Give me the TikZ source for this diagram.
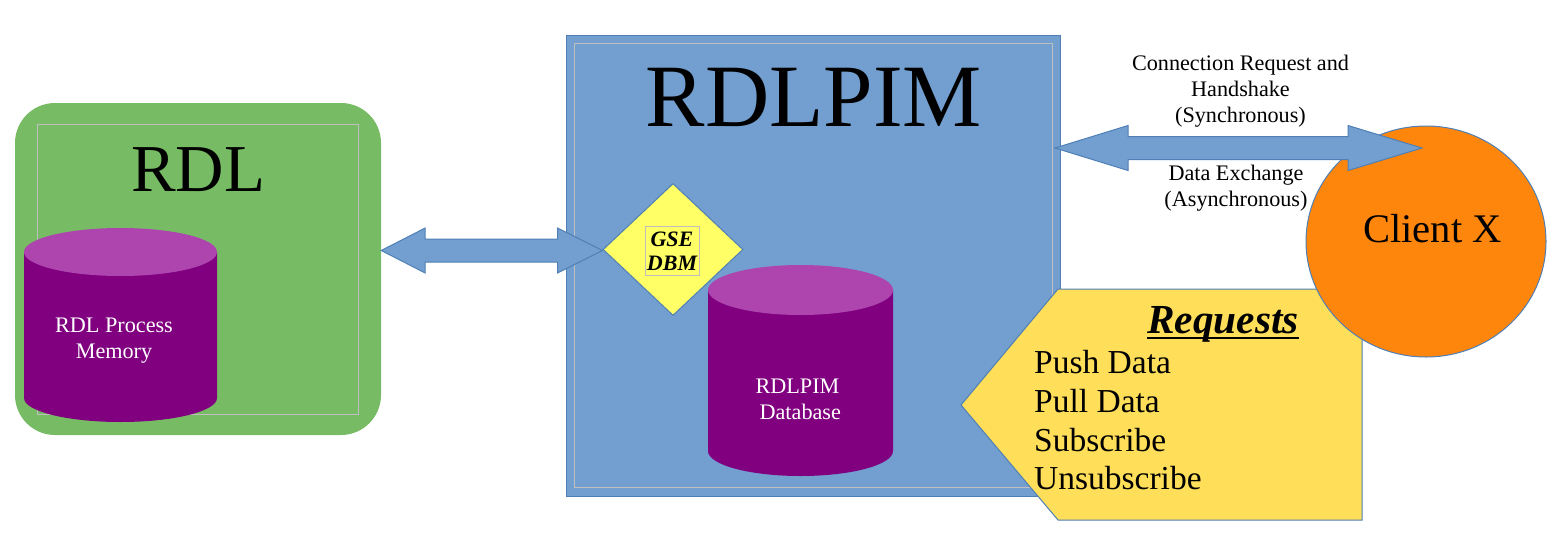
\documentclass[tikz,border=0pt]{standalone}
\usepackage{fontspec}
\setmainfont{Liberation Serif}
\usetikzlibrary{calc,shapes.geometric}
\definecolor{pblue}{HTML}{729FCF}
\definecolor{pblueedge}{HTML}{4F7FB5}
\definecolor{pgreen}{HTML}{77BC65}
\definecolor{ppurple}{HTML}{800080}
\definecolor{ppurpletop}{HTML}{AE45AE}
\definecolor{pyellow}{HTML}{FFFF66}
\definecolor{pgold}{HTML}{FFDE59}
\definecolor{porange}{HTML}{FF860D}
\definecolor{pframe}{HTML}{BFBFBF}
\newcommand{\fs}[1]{\fontsize{#1}{#1}\selectfont}
\tikzset{
  inframe/.style={draw=pframe,line width=0.9pt},
  smalltext/.style={font=\fs{22.2},align=center,inner sep=0pt},
  whitetext/.style={smalltext,text=white},
  bigtext/.style={anchor=center,inner sep=0pt},
  listtext/.style={anchor=west,inner sep=0pt,font=\fs{33.5}},
  cylside/.style={fill=ppurple},
  cyltop/.style={fill=ppurpletop},
  dblarrow/.style={fill=pblue,draw=pblueedge,line width=1pt,line join=miter}
}
\newcommand{\dblarr}[6]{% from, to, headleft, headright, halfhead, halfshaft
  \draw[dblarrow] (#1) -- ($(#1)+(#3,-#5)$) -- ($(#1)+(#3,-#6)$)
    -- ($(#2)+(-#4,-#6)$) -- ($(#2)+(-#4,-#5)$) -- (#2)
    -- ($(#2)+(-#4,#5)$) -- ($(#2)+(-#4,#6)$) -- ($(#1)+(#3,#6)$)
    -- ($(#1)+(#3,#5)$) -- cycle;}
\newcommand{\cyl}[5]{% left, right, topcentre y, bottomcentre y, ry
  \fill[cylside] (#1,#3) -- (#1,#4) arc[x radius={(#2-#1)/2},y radius=#5,start angle=180,end angle=0] -- (#2,#3) -- cycle;
  \fill[cyltop] ({(#1+#2)/2},#3) ellipse[x radius={(#2-#1)/2},y radius=#5];}
\begin{document}
\begin{tikzpicture}[x=1pt,y=-1pt]
\useasboundingbox (0,0) rectangle (1550,539);
% RDLPIM box
\node[fill=pblue,draw=pblueedge,line width=1pt,inner sep=0pt,minimum width=494pt,minimum height=461pt] (pimbox) at (813.5,265.5) {};
\node[inner sep=0pt,minimum width=478pt,minimum height=444pt,inframe] (pimframe) at (813,265.5) {};
\node[bigtext,font=\fs{89}] (pimtitle) at (814,97) {RDLPIM};
% RDL box
\node[fill=pgreen,rounded corners=40pt,inner sep=0pt,minimum width=366pt,minimum height=332pt] (rdlbox) at (198,269) {};
\node[inner sep=0pt,minimum width=321pt,minimum height=290pt,inframe] (rdlframe) at (197.5,269) {};
\node[bigtext,font=\fs{67}] (rdltitle) at (198,170) {RDL};
% RDL memory
\cyl{24}{217}{252}{398}{24}
\node[whitetext] (rdlmem) at (114,341) {RDL Process\\[3.8pt]Memory};
% database
\cyl{708}{893}{290}{451}{25}
\node[whitetext] (pimdb) at (797.5,399) {RDLPIM\\[3.8pt]\ Database};
% requests
\fill[pgold,draw=pblueedge,line width=1pt] (1058,289) -- (1362,289) -- (1362,520) -- (1058,520) -- (961,405) -- cycle;
\node[anchor=base,inner sep=0pt,font=\fs{41.3}\bfseries\itshape] (reqtitle) at (1223,333) {Requests};
\draw[line width=2.6pt] ($(reqtitle.base west)+(0,5)$) -- ($(reqtitle.base east)+(0,5)$);
\node[listtext] (r1) at (1034,362) {Push Data};
\node[listtext] (r2) at (1034,401) {Pull Data};
\node[listtext] (r3) at (1034,440) {Subscribe};
\node[listtext] (r4) at (1034,478) {Unsubscribe};
% client
\node[ellipse,fill=porange,draw=pblueedge,line width=1pt,minimum width=240pt,minimum height=231pt,inner sep=0pt] (client) at (1426,241.5) {};
\node[bigtext,font=\fs{40.6}] (clienttext) at (1432.5,229) {Client X};
% GSE DBM
\node[diamond,aspect=1.06,fill=pyellow,draw=pblueedge,line width=1pt,minimum width=140pt,minimum height=132pt,inner sep=0pt] (gse) at (673,249.5) {};
\node[inner sep=0pt,minimum width=54pt,minimum height=49pt,draw=pframe,line width=0.8pt,font=\fs{22}\bfseries\itshape,align=center] (gsetext) at (672,251) {GSE\\[2.5pt]DBM};
% arrows
\coordinate (a1) at (rdlbox.east |- 0,250.5);
\coordinate (a2) at (gse.west |- 0,250.5);
\coordinate (b1) at (1055,148);
\coordinate (b2) at (1422,148);
\dblarr{a1}{a2}{44}{45}{22.5}{11.5}
\dblarr{b1}{b2}{73}{74}{22.5}{11.5}
% labels
\node[smalltext] (conn) at (1240.5,91) {Connection Request and\\[3.8pt]Handshake\\[3.8pt](Synchronous)};
\node[smalltext] (data) at (1236,188) {Data Exchange\\[3.8pt](Asynchronous)};
\end{tikzpicture}
\end{document}
